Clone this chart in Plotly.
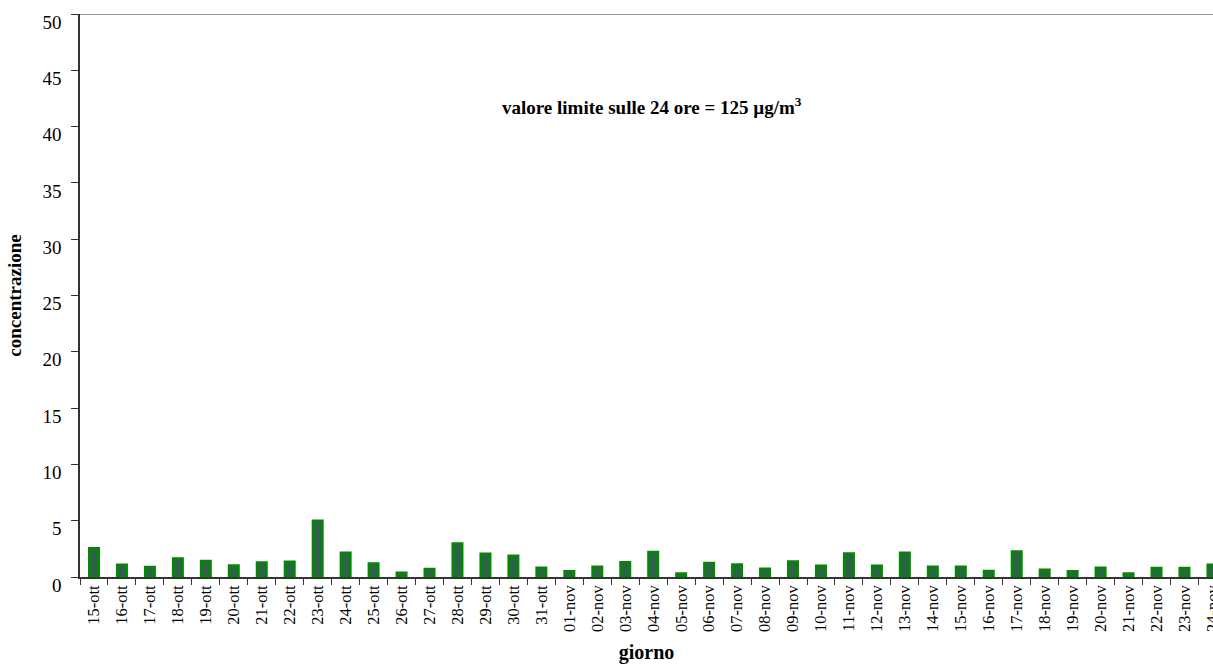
import plotly.graph_objects as go

# Daily concentration values, 15 Oct - 24 Nov
giorni = (
    [f"{d}-ott" for d in range(15, 32)]
    + [f"{d:02d}-nov" for d in range(1, 25)]
)
concentrazione = [
    2.56, 1.09, 0.88, 1.65, 1.41, 1.03, 1.29, 1.35, 5.0, 2.15, 1.21, 0.38, 0.71,
    2.97, 2.06, 1.88, 0.82,
    0.5, 0.91, 1.32, 2.21, 0.32, 1.24, 1.12, 0.74, 1.38, 1.0,
    2.09, 1.0, 2.15, 0.91, 0.91, 0.53, 2.26, 0.65, 0.5, 0.82, 0.32, 0.79, 0.79, 1.09,
]
y_ticks = list(range(0, 55, 5))

FONT = "Liberation Serif, Times New Roman, serif"

fig = go.Figure(
    go.Bar(
        x=giorni,
        y=concentrazione,
        width=0.34,
        marker=dict(color="#2d6248", line=dict(color="#008a00", width=2.5)),
    )
)

fig.update_layout(
    width=1213,
    height=670,
    margin=dict(l=80, r=0, t=14, b=93),
    paper_bgcolor="white",
    plot_bgcolor="white",
    font=dict(family=FONT, color="black", size=16),
    showlegend=False,
    annotations=[
        dict(
            text="<b>valore limite sulle 24 ore = 125 µg/m<sup>3</sup></b>",
            x=0.505, y=0.837, xref="paper", yref="paper",
            xanchor="center", yanchor="middle",
            showarrow=False, font=dict(size=19, family=FONT),
        )
    ],
    shapes=[
        dict(type="line", xref="paper", yref="y", x0=0, x1=1, y0=50, y1=50,
             line=dict(color="#777777", width=1.5)),
    ],
)

fig.update_xaxes(
    type="category",
    range=[-0.5, 40.02],
    automargin=False,
    showline=True, linecolor="#333333", linewidth=1.5,
    ticks="outside", tickson="boundaries", ticklen=6, tickcolor="#333333",
    tickangle=-90, tickfont=dict(size=16.5, family=FONT),
    showgrid=False,
    title=dict(text="<b>giorno</b>", font=dict(size=20, family=FONT), standoff=14),
)
fig.update_yaxes(
    range=[0, 50],
    tickvals=y_ticks,
    automargin=False,
    showline=True, linecolor="#333333", linewidth=1.5,
    ticks="outside", ticklen=7, tickcolor="#333333",
    tickfont=dict(size=19, family=FONT),
    ticklabelstandoff=6,
    ticklabelshift=8,
    showgrid=False, zeroline=False,
    title=dict(text="<b>concentrazione</b>", font=dict(size=19, family=FONT), standoff=16),
)

fig.write_html("out.html")
